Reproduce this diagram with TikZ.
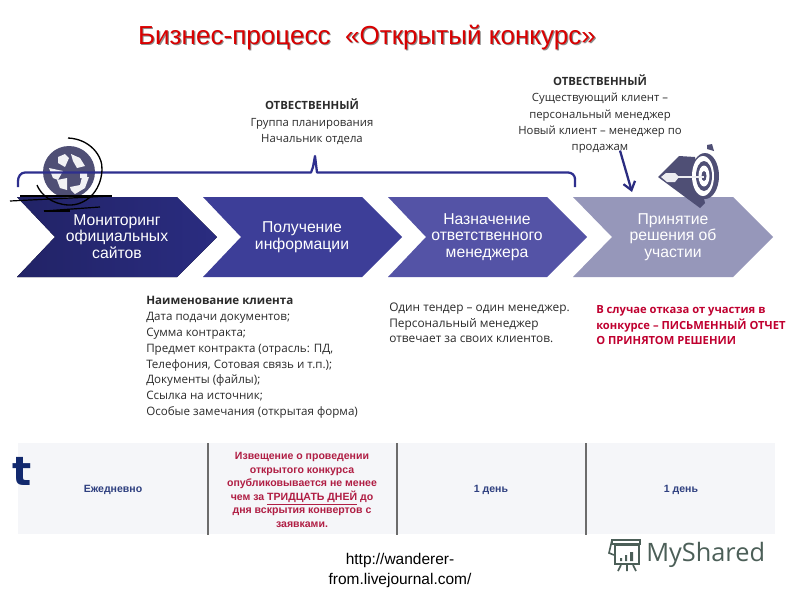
\documentclass[tikz,border=0pt]{standalone}
\usepackage{fontspec}
\setmainfont{Open Sans}
\newfontfamily\arialf{Liberation Sans}
\newfontfamily\deja{DejaVu Sans}
\usetikzlibrary{arrows.meta,shadows}
\definecolor{navy}{HTML}{2A2C80}
\definecolor{chevB}{HTML}{3D3E98}
\definecolor{chevC}{HTML}{5453A6}
\definecolor{chevD}{HTML}{9697BA}
\definecolor{brk}{HTML}{2E2F8E}
\definecolor{icon}{HTML}{4F4F75}
\definecolor{crim}{HTML}{B01E44}
\definecolor{cellbg}{HTML}{F5F6F9}
\definecolor{celltxt}{HTML}{2F4080}
\definecolor{labtxt}{HTML}{2B2B2B}
\definecolor{logo}{HTML}{4C5F58}
\definecolor{redn}{HTML}{C00030}
\definecolor{tnavy}{HTML}{12296E}
\tikzset{
  x=0.75pt,y=-0.75pt,
  chevlabel/.style={font=\arialf\fontsize{11.8}{12.4}\selectfont,text=white,align=center,inner sep=0pt},
  note/.style={font=\fontsize{8.7}{11.9}\selectfont,text=labtxt,align=left,anchor=north west,inner sep=0pt},
  notec/.style={font=\fontsize{8.5}{12.2}\selectfont,text=labtxt,align=center,anchor=north,inner sep=0pt},
  cell/.style={font=\arialf\bfseries\fontsize{7.9}{10.1}\selectfont,align=center,inner sep=0pt},
  sep/.style={draw=gray!85!black,line width=1pt},
  titlef/.style={font=\arialf\fontsize{19.55}{22}\selectfont,inner sep=0pt},
}
\begin{document}
\begin{tikzpicture}
\useasboundingbox (0,0) rectangle (800,600);
\fill[white] (0,0) rectangle (800,600);
% title
\node[titlef,text=black!45] at (368.1,39) {Бизнес-процесс\ \ «Открытый конкурс»};
\node (title) [titlef,text=red!85!black] at (367,38) {Бизнес-процесс\ \ «Открытый конкурс»};
% chevrons
\fill[left color=navy!80!black,right color=navy] (17,197) -- (177,197) -- (217,237) -- (177,277) -- (17,277) -- (55,237) -- cycle;
\fill[chevB] (203,197) -- (362,197) -- (402,237) -- (362,277) -- (203,277) -- (241,237) -- cycle;
\fill[chevC] (388,197) -- (547,197) -- (587,237) -- (547,277) -- (388,277) -- (426,237) -- cycle;
\fill[chevD] (573,197) -- (733,197) -- (773,237) -- (733,277) -- (573,277) -- (612,237) -- cycle;
\node (c1) [chevlabel] at (117,236.5) {Мониторинг\\официальных\\сайтов};
\node (c2) [chevlabel] at (302,237) {Получение\\информации};
\node (c3) [chevlabel] at (487,237) {Назначение\\ответственного\\менеджера};
\node (c4) [chevlabel] at (673,237) {Принятие\\решения об\\участии};
% recycling icon
\fill[icon] (69,172) circle (26);
\fill[white!92!icon] (58,157) -- (65,154) -- (69,158) -- (65,167) -- (58,163) -- cycle;
\fill[white!92!icon] (71,154) -- (80,158) -- (85,166) -- (77,168) -- (73,161) -- cycle;
\fill[white!92!icon] (49,168) -- (63,171) -- (58,180) -- (53,178) -- cycle;
\fill[white!92!icon] (57,180) -- (67,178) -- (67,190) -- (60,188) -- cycle;
\fill[white!92!icon] (70,187) -- (80,185) -- (82,177) -- (89,177) -- (85,188) -- (75,194) -- (71,190) -- cycle;
\fill[white!92!icon] (80,173) -- (87,172) -- (87,178) -- (80,178) -- cycle;
% bracket
\coordinate (b0) at (18,187);
\coordinate (b1) at (575,187);
\coordinate (bm) at (315,156);
\draw[brk,line width=1.7pt,line join=round] (b0) -- (18,181) to[out=90,in=180] (25,172.5) -- (311,172.5) -- (313,167) -- (bm) -- (317,172.5) -- (568,172.5) to[out=0,in=90] (575,179) -- (b1);
% circle arc and lines over icon
\draw[black,line width=1pt] (68,138) .. controls (90,139) and (103,156) .. (102,170) .. controls (101,192) and (85,206) .. (68,205) .. controls (52,204) and (41,195) .. (37,185);
\draw[black,line width=0.9pt] (10,201) -- (111,196);
\draw[black,line width=0.9pt] (20,196) -- (112,196);
\draw[black,line width=0.9pt] (44,211) -- (100,207);
\draw[black,line width=0.9pt] (44,211) -- (70,211);
% target icon
\fill[icon] (658,177) -- (679,156) -- (695,157) -- (705,203) -- (700,208) -- cycle;
\fill[icon] (707,145) -- (712,144) -- (714,151) -- (707,149) -- cycle;
\fill[icon] (705,176) ellipse (14 and 23);
\fill[white] (703,176) ellipse (11 and 20);
\fill[icon] (704,176) ellipse (8 and 15);
\fill[white] (704,176) ellipse (5.5 and 10.5);
\fill[icon] (704,176) ellipse (2.5 and 5);
\draw[white!90!icon,line width=1.2pt] (675,177) -- (704,177);
\fill[white!90!icon] (661,177) -- (666,173) -- (675,173) -- (679,177) -- (675,182) -- (667,182) -- cycle;
% responsibilities
\node (r1) [notec] at (312,99) {\textbf{ОТВЕСТВЕННЫЙ}\\Группа планирования\\Начальник отдела};
\node (r2) [notec] at (600,74.5) {\textbf{ОТВЕСТВЕННЫЙ}\\Существующий клиент --\\персональный менеджер\\Новый клиент -- менеджер по\\продажам};
\draw[-{Straight Barb[length=6pt,width=9pt]},navy,line width=1.7pt] (r2.south) ++(20,-3) coordinate (a0) -- (632,192);
% notes
\node (n1) [note] at (146,296) {\textbf{Наименование клиента}\\Дата подачи документов;\\Сумма контракта;\\Предмет контракта (отрасль: ПД,\\Телефония, Сотовая связь и т.п.);\\Документы (файлы);\\Ссылка на источник;\\Особые замечания (открытая форма)};
\node (n2) [note,font=\fontsize{8.9}{11.6}\selectfont] at (389,303) {Один тендер -- один менеджер.\\Персональный менеджер\\отвечает за своих клиентов.};
\node (n3) [note,text=redn,font=\bfseries\fontsize{8.4}{11.8}\selectfont] at (596,305) {В случае отказа от участия в\\конкурсе -- ПИСЬМЕННЫЙ ОТЧЕТ\\О ПРИНЯТОМ РЕШЕНИИ};
% table
\fill[cellbg] (18,443) rectangle (775,534);
\draw[sep] (208,443) -- (208,535);
\draw[sep] (397,443) -- (397,535);
\draw[sep] (586,443) -- (586,535);
\node (t1) [cell,text=celltxt] at (113,490) {Ежедневно};
\node (t2) [cell,text=crim] at (302,490) {Извещение о проведении\\открытого конкурса\\опубликовывается не менее\\чем за \underline{ТРИДЦАТЬ ДНЕЙ} до\\дня вскрытия конвертов с\\заявками.};
\node (t3) [cell,text=celltxt] at (491,490) {1 день};
\node (t4) [cell,text=celltxt] at (681,490) {1 день};
\node (tt) [font=\deja\bfseries\fontsize{30}{32}\selectfont,text=tnavy,inner sep=0pt] at (22,471) {t};
% url
\node (url) [font=\arialf\fontsize{11.6}{15}\selectfont,text=black,align=center,inner sep=0pt] at (400,570) {http://wanderer-\\from.livejournal.com/};
% logo
\node (ms) [font=\fontsize{19}{22}\selectfont,text=logo,inner sep=0pt,anchor=west] at (646,555) {MyShared};
\begin{scope}[draw=logo,line width=1.2pt]
\draw (615,545) rectangle (639,564);
\draw (612,540) -- (640,540) -- (640,544) -- (612,544) -- cycle;
\draw (612,540) -- (609,553) -- (614,555);
\draw (621,565) -- (618,571) (627,565) -- (627,571) (633,565) -- (636,571);
\fill[logo] (620,558) rectangle (622,561) (625,555) rectangle (627,561) (630,552) rectangle (633,561);
\end{scope}
\end{tikzpicture}
\end{document}
